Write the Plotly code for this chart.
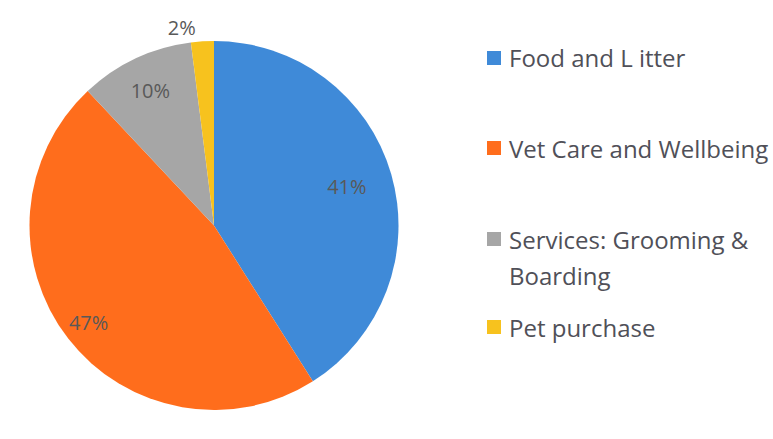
import plotly.graph_objects as go

labels = ['Food and L itter', 'Vet Care and Wellbeing', 'Services: Grooming &<br>Boarding', 'Pet purchase']
values = [41, 47, 10, 2]
colors = ['#3f8ad8', '#ff6d1c', '#a6a6a6', '#f7c21e']

# where each % label sits, as a fraction of the pie radius (None = outside label)
label_radius = [0.75, 0.86, 0.81, None]

W, H = 773, 439
dom = dict(x=[28 / W, 400 / W], y=[1 - 410 / H, 1 - 41 / H])
txt_font = dict(family='Open Sans', size=20, color='#595959')

total = sum(values)
pct = [f'{round(v / total * 100)}%' for v in values]

fig = go.Figure(go.Pie(
    labels=labels,
    values=values,
    sort=False,
    direction='clockwise',
    marker=dict(colors=colors, line=dict(width=0)),
    text=[p if r is None else '' for p, r in zip(pct, label_radius)],
    textinfo='text',
    textposition='outside',
    textfont=txt_font,
    domain=dom,
    showlegend=False,
))

# transparent copies of the pie used only to place the inside labels
for i, r in enumerate(label_radius):
    if r is None:
        continue
    fig.add_trace(go.Pie(
        labels=labels,
        values=values,
        sort=False,
        direction='clockwise',
        hole=2 * r - 1,
        marker=dict(colors=['rgba(0,0,0,0)'] * len(values), line=dict(width=0)),
        text=[pct[j] if j == i else '' for j in range(len(values))],
        textinfo='text',
        textposition='inside',
        insidetextorientation='horizontal',
        textfont=txt_font,
        domain=dom,
        hoverinfo='skip',
        showlegend=False,
    ))

# legend drawn by hand so the spacing matches
legend_y = [58, 148, 239, 327]
line_gap = 36
for name, col, y in zip(labels, colors, legend_y):
    fig.add_shape(type='rect', xref='paper', yref='paper',
                  x0=487 / W, x1=501 / W, y0=1 - (y + 7) / H, y1=1 - (y - 7) / H,
                  fillcolor=col, line=dict(width=0))
    for k, part in enumerate(name.split('<br>')):
        fig.add_annotation(text=part, xref='paper', yref='paper',
                           x=507 / W, y=1 - (y + k * line_gap) / H,
                           xanchor='left', yanchor='middle',
                           showarrow=False, align='left',
                           font=dict(family='Open Sans', size=24, color='#505058'))

fig.update_layout(
    width=W, height=H,
    margin=dict(l=0, r=0, t=0, b=0),
    paper_bgcolor='white',
    plot_bgcolor='white',
)

fig.write_html('out.html', config={'displayModeBar': False},
               post_script="document.body.style.margin='0';")
